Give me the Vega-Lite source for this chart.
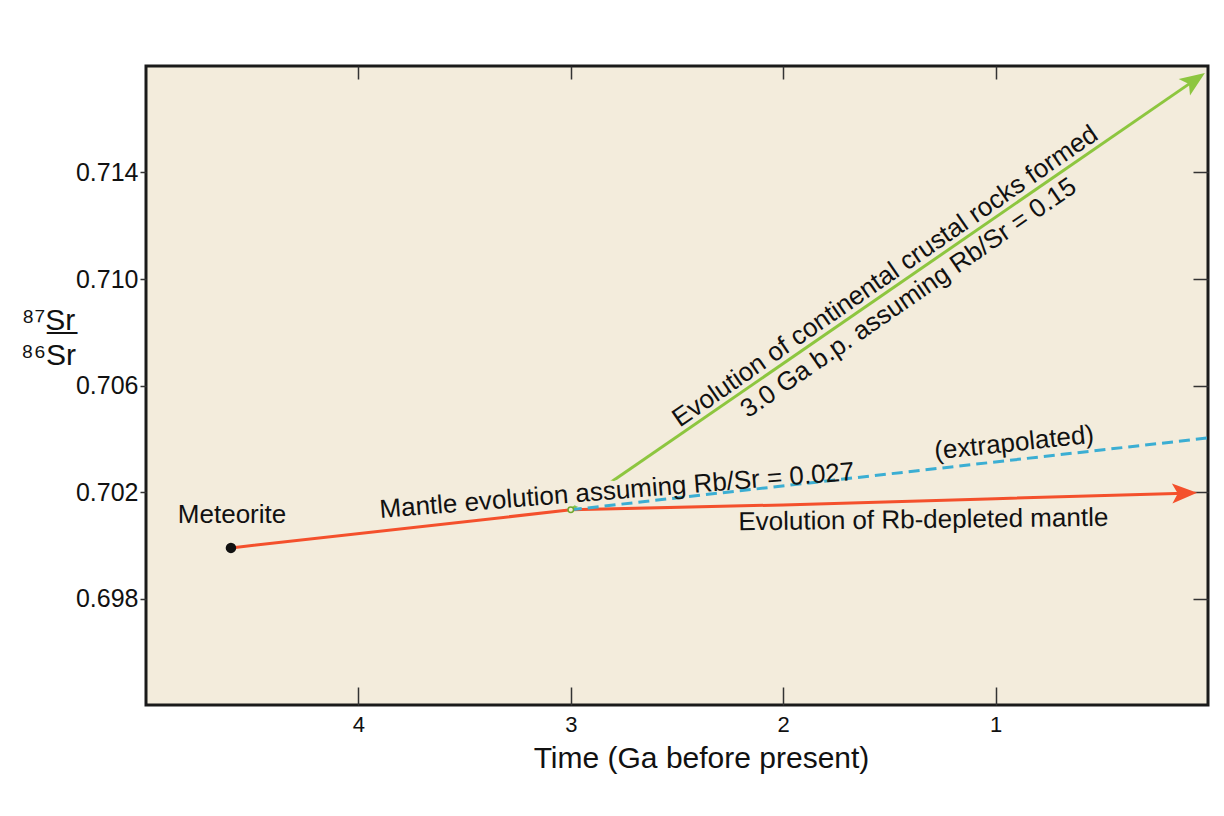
{
  "$schema": "https://vega.github.io/schema/vega-lite/v6.json",
  "width": 1062,
  "height": 639,
  "autosize": {"type": "none"},
  "padding": {"left": 146, "top": 66, "right": 16, "bottom": 111},
  "background": "white",
  "config": {
    "view": {"fill": "#F3ECDC", "stroke": "#1a1a1a", "strokeWidth": 3},
    "font": "Liberation Sans"
  },
  "datasets": {
    "red": [
      {"t": 4.6, "v": 0.6999},
      {"t": 3.0, "v": 0.70133},
      {"t": 2.0, "v": 0.701515},
      {"t": 1.0, "v": 0.701748},
      {"t": 0.11, "v": 0.701955}
    ],
    "green": [
      {"t": 3.0, "v": 0.70133},
      {"t": 0.063, "v": 0.71747}
    ],
    "blue": [
      {"t": 3.0, "v": 0.70133},
      {"t": 0.0, "v": 0.70403}
    ],
    "meteorite": [{"t": 4.6, "v": 0.6999, "label": "Meteorite"}],
    "junction": [{"t": 3.0, "v": 0.70133}],
    "redArrow": [{"t": 0.11, "v": 0.701955}],
    "greenArrow": [{"t": 0.063, "v": 0.71747}],
    "meteoriteLabel": [{"t": 4.595, "v": 0.700835, "label": "Meteorite"}],
    "mantleLabel": [{"t": 2.78, "v": 0.70174, "label": "Mantle evolution assuming Rb/Sr = 0.027"}],
    "extrapLabel": [{"t": 0.909, "v": 0.703539, "label": "(extrapolated)"}],
    "depletedLabel": [{"t": 1.34, "v": 0.700647, "label": "Evolution of Rb-depleted mantle"}],
    "crustLabel1": [{"t": 1.499, "v": 0.709849, "label": "Evolution of continental crustal rocks formed"}],
    "crustLabel2": [{"t": 1.388, "v": 0.709042, "label": "3.0 Ga b.p. assuming Rb/Sr = 0.15"}]
  },
  "resolve": {"axis": {"x": "independent", "y": "independent"}},
  "layer": [
    {
      "data": {"name": "green"},
      "mark": {"type": "line", "color": "#8DC63F", "strokeWidth": 3},
      "encoding": {
        "x": {"field": "t", "type": "quantitative",
          "scale": {"domain": [0, 5], "reverse": true, "nice": false, "zero": false},
          "axis": {"orient": "bottom", "values": [4, 3, 2, 1], "format": "d", "grid": false, "domain": false,
            "tickSize": -18, "tickColor": "#333", "tickWidth": 1.5,
            "labelFont": "Liberation Sans", "labelFontSize": 22, "labelColor": "#111", "labelPadding": 27,
            "title": "Time (Ga before present)", "titleFont": "Liberation Sans", "titleFontSize": 30,
            "titleFontWeight": "normal", "titleColor": "#111", "titleX": 555, "titleY": 62,
            "titleAlign": "center", "titleBaseline": "alphabetic"}},
        "y": {"field": "v", "type": "quantitative",
          "scale": {"domain": [0.694, 0.718], "nice": false, "zero": false},
          "axis": {"orient": "left", "values": [0.698, 0.702, 0.706, 0.71, 0.714], "format": ".3f", "grid": false, "domain": false,
            "tickSize": 6, "tickColor": "#333", "tickWidth": 1.5,
            "labelFont": "Liberation Sans", "labelFontSize": 25, "labelColor": "#111", "labelPadding": 2,
            "title": ["⁸⁷S̲r̲", "⁸⁶Sr"], "titleAngle": 0, "titleX": -98, "titleY": 263,
            "titleAlign": "center", "titleBaseline": "alphabetic", "titleFont": "Liberation Sans",
            "titleFontSize": 30, "titleFontWeight": "normal", "titleColor": "#111", "titleLineHeight": 35}}
      }
    },
    {
      "data": {"name": "mantleLabel"},
      "mark": {"type": "text", "angle": -4.6, "fontSize": 26, "font": "Liberation Sans", "align": "center", "baseline": "alphabetic",
        "fill": "#F3ECDC", "stroke": "#F3ECDC", "strokeWidth": 10, "strokeJoin": "round"},
      "encoding": {
        "x": {"field": "t", "type": "quantitative", "axis": null},
        "y": {"field": "v", "type": "quantitative", "axis": null},
        "text": {"field": "label"}
      }
    },
    {
      "data": {"name": "red"},
      "mark": {"type": "line", "color": "#F4502C", "strokeWidth": 3},
      "encoding": {
        "x": {"field": "t", "type": "quantitative", "axis": null},
        "y": {"field": "v", "type": "quantitative", "axis": null}
      }
    },
    {
      "data": {"name": "blue"},
      "mark": {"type": "line", "color": "#3BAED3", "strokeWidth": 3, "strokeDash": [11, 6]},
      "encoding": {
        "x": {"field": "t", "type": "quantitative",
          "axis": {"orient": "top", "values": [4, 3, 2, 1], "labels": false, "domain": false, "grid": false,
            "tickSize": -13, "tickColor": "#333", "tickWidth": 1.5, "title": null}},
        "y": {"field": "v", "type": "quantitative",
          "axis": {"orient": "right", "values": [0.698, 0.702, 0.706, 0.71, 0.714], "labels": false, "domain": false, "grid": false,
            "tickSize": -15, "tickColor": "#333", "tickWidth": 1.5, "title": null}}
      }
    },
    {
      "data": {"name": "redArrow"},
      "mark": {"type": "point", "shape": "M-1,-0.8L1,0L-1,0.8L-0.55,0Z", "size": 625, "angle": -1.5,
        "filled": true, "color": "#F4502C", "opacity": 1},
      "encoding": {
        "x": {"field": "t", "type": "quantitative", "axis": null},
        "y": {"field": "v", "type": "quantitative", "axis": null}
      }
    },
    {
      "data": {"name": "greenArrow"},
      "mark": {"type": "point", "shape": "M-1,-0.8L1,0L-1,0.8L-0.55,0Z", "size": 625, "angle": -34.6,
        "filled": true, "color": "#8DC63F", "opacity": 1},
      "encoding": {
        "x": {"field": "t", "type": "quantitative", "axis": null},
        "y": {"field": "v", "type": "quantitative", "axis": null}
      }
    },
    {
      "data": {"name": "meteorite"},
      "mark": {"type": "point", "shape": "circle", "size": 110, "filled": true, "color": "#111", "opacity": 1},
      "encoding": {
        "x": {"field": "t", "type": "quantitative", "axis": null},
        "y": {"field": "v", "type": "quantitative", "axis": null}
      }
    },
    {
      "data": {"name": "junction"},
      "mark": {"type": "point", "shape": "circle", "size": 30, "filled": false, "fill": "#F3ECDC", "stroke": "#6FA82E", "strokeWidth": 1.5, "opacity": 1},
      "encoding": {
        "x": {"field": "t", "type": "quantitative", "axis": null},
        "y": {"field": "v", "type": "quantitative", "axis": null}
      }
    },
    {
      "data": {"name": "meteoriteLabel"},
      "mark": {"type": "text", "fontSize": 26, "font": "Liberation Sans", "align": "center", "baseline": "alphabetic", "color": "#111"},
      "encoding": {
        "x": {"field": "t", "type": "quantitative", "axis": null},
        "y": {"field": "v", "type": "quantitative", "axis": null},
        "text": {"field": "label"}
      }
    },
    {
      "data": {"name": "mantleLabel"},
      "mark": {"type": "text", "angle": -4.6, "fontSize": 26, "font": "Liberation Sans", "align": "center", "baseline": "alphabetic", "color": "#111"},
      "encoding": {
        "x": {"field": "t", "type": "quantitative", "axis": null},
        "y": {"field": "v", "type": "quantitative", "axis": null},
        "text": {"field": "label"}
      }
    },
    {
      "data": {"name": "extrapLabel"},
      "mark": {"type": "text", "angle": -6, "fontSize": 26, "font": "Liberation Sans", "align": "center", "baseline": "alphabetic", "color": "#111"},
      "encoding": {
        "x": {"field": "t", "type": "quantitative", "axis": null},
        "y": {"field": "v", "type": "quantitative", "axis": null},
        "text": {"field": "label"}
      }
    },
    {
      "data": {"name": "depletedLabel"},
      "mark": {"type": "text", "angle": -0.7, "fontSize": 26, "font": "Liberation Sans", "align": "center", "baseline": "alphabetic", "color": "#111"},
      "encoding": {
        "x": {"field": "t", "type": "quantitative", "axis": null},
        "y": {"field": "v", "type": "quantitative", "axis": null},
        "text": {"field": "label"}
      }
    },
    {
      "data": {"name": "crustLabel1"},
      "mark": {"type": "text", "angle": -34.6, "fontSize": 26, "font": "Liberation Sans", "align": "center", "baseline": "alphabetic", "color": "#111"},
      "encoding": {
        "x": {"field": "t", "type": "quantitative", "axis": null},
        "y": {"field": "v", "type": "quantitative", "axis": null},
        "text": {"field": "label"}
      }
    },
    {
      "data": {"name": "crustLabel2"},
      "mark": {"type": "text", "angle": -34.6, "fontSize": 26, "font": "Liberation Sans", "align": "center", "baseline": "alphabetic", "color": "#111"},
      "encoding": {
        "x": {"field": "t", "type": "quantitative", "axis": null},
        "y": {"field": "v", "type": "quantitative", "axis": null},
        "text": {"field": "label"}
      }
    }
  ]
}
